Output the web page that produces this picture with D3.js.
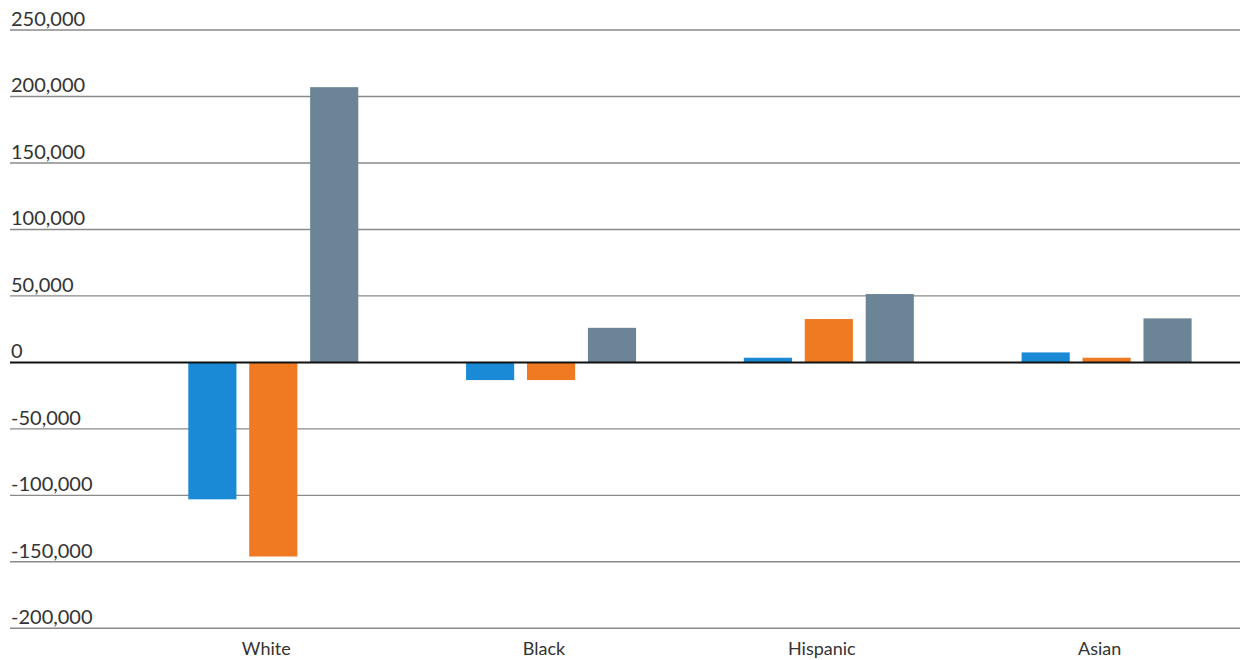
<!DOCTYPE html>
<html>
<head>
<meta charset="utf-8">
<script src="https://cdn.jsdelivr.net/npm/d3@7"></script>
<style>
  html, body { margin: 0; padding: 0; background: #fff; }
  svg { display: block; }
  text { font-family: Lato, "Open Sans", sans-serif; fill: #333; }
</style>
</head>
<body>
<svg id="chart" width="1247" height="660"></svg>
<script>
// ---- data ----
const categories = ["White", "Black", "Hispanic", "Asian"];
const seriesNames = ["Series 1", "Series 2", "Series 3"];
const series1 = [-103000, -13300, 3500, 7500];
const series2 = [-146000, -13300, 32600, 3500];
const series3 = [207000, 26000, 51400, 33100];
const yTicks = [250000, 200000, 150000, 100000, 50000, 0, -50000, -100000, -150000, -200000];
const colors = ["#1b8ad6", "#f07a22", "#6b8596"];

const seriesValues = [series1, series2, series3];
const rows = categories.map((c, i) => ({
  category: c,
  values: seriesNames.map((s, j) => ({ key: s, value: seriesValues[j][i], idx: j }))
}));

const svg = d3.select("#chart");

const y = d3.scaleLinear().domain([-200000, 250000]).range([628.3, 30]);
const x0 = d3.scaleBand().domain(categories).range([134.4, 1245.5])
  .paddingInner(0.388).paddingOuter(0.194);
const x1 = d3.scaleBand().domain(seriesNames).range([0, x0.bandwidth()])
  .paddingInner(0.21).paddingOuter(0);

const gridLeft = 10, gridRight = 1240;

// gridlines
svg.append("g").selectAll("line")
  .data(yTicks.filter(d => d !== 0))
  .join("line")
  .attr("x1", gridLeft).attr("x2", gridRight)
  .attr("y1", d => y(d)).attr("y2", d => y(d))
  .attr("stroke", "#8a8a8a").attr("stroke-width", 1.4);

// y labels
const fmt = d3.formatLocale({ decimal: ".", thousands: ",", grouping: [3], currency: ["", ""], minus: "-" }).format(",");
svg.append("g").selectAll("text")
  .data(yTicks)
  .join("text")
  .attr("x", 11)
  .attr("y", d => y(d) - 4)
  .attr("font-size", 20)
  .text(d => fmt(d));

// bars
svg.append("g").selectAll("g")
  .data(rows)
  .join("g")
  .attr("transform", d => `translate(${x0(d.category)},0)`)
  .selectAll("rect")
  .data(d => d.values)
  .join("rect")
  .attr("x", d => x1(d.key))
  .attr("width", x1.bandwidth())
  .attr("y", d => y(Math.max(0, d.value)))
  .attr("height", d => Math.abs(y(d.value) - y(0)))
  .attr("fill", d => colors[d.idx]);

// zero line
svg.append("line")
  .attr("x1", gridLeft).attr("x2", gridRight)
  .attr("y1", y(0)).attr("y2", y(0))
  .attr("stroke", "#111").attr("stroke-width", 2);

// category labels
svg.append("g").selectAll("text")
  .data(categories)
  .join("text")
  .attr("x", d => x0(d) + x0.bandwidth() / 2 - 7)
  .attr("y", 655)
  .attr("text-anchor", "middle")
  .attr("font-size", 18)
  .text(d => d);
</script>
</body>
</html>
